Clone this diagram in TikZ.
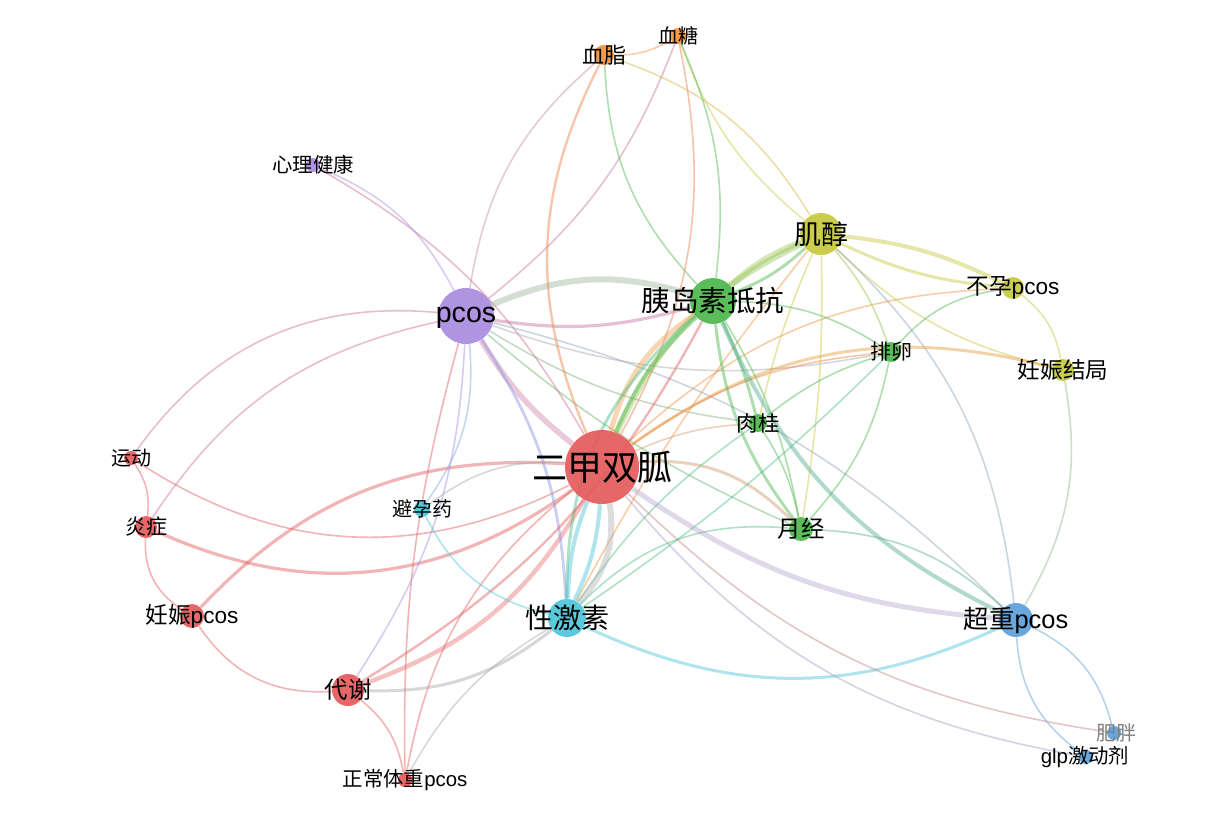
\documentclass[tikz,border=0pt]{standalone}
\usepackage{fontspec}
\setmainfont{Liberation Sans}
\newfontfamily\cjk{Noto Sans CJK SC}
\usetikzlibrary{backgrounds}
\definecolor{cred}{HTML}{E35B5B}
\definecolor{cpur}{HTML}{A98BE0}
\definecolor{cgrn}{HTML}{4DB84D}
\definecolor{cyel}{HTML}{C6C83D}
\definecolor{corg}{HTML}{F0923C}
\definecolor{ccya}{HTML}{4CC5D8}
\definecolor{cblu}{HTML}{5C9FDB}
\definecolor{cgry}{HTML}{A8A8A8}

\begin{document}
\begin{tikzpicture}[x=0.5pt,y=-0.5pt,
    dot/.style={circle,inner sep=0pt,draw=none,fill opacity=0.92},
    lbl/.style={inner sep=0pt,text=black},
    lnk/.style={line width=0.8pt,draw opacity=0.45},
    thk/.style={line width=2.4pt,draw opacity=0.38}
  ]
  \useasboundingbox (0,0) rectangle (1221,821);

  \node[dot,fill=cred,minimum size=37pt] (mf) at (602,467) {};
  \node[dot,fill=cpur,minimum size=28pt] (pc) at (466,316) {};
  \node[dot,fill=cgrn,minimum size=23pt] (ir) at (713,301) {};
  \node[dot,fill=cyel,minimum size=21pt] (ino) at (821,234) {};
  \node[dot,fill=corg,minimum size=10pt] (bl) at (604,55) {};
  \node[dot,fill=corg,minimum size=8pt] (bg) at (678,36) {};
  \node[dot,fill=cpur,minimum size=7pt] (mh) at (313,165) {};
  \node[dot,fill=cyel,minimum size=11pt] (inf) at (1013,288) {};
  \node[dot,fill=cgrn,minimum size=10pt] (ov) at (891,352) {};
  \node[dot,fill=cyel,minimum size=11pt] (po) at (1063,370) {};
  \node[dot,fill=cgrn,minimum size=9pt] (cin) at (758,423) {};
  \node[dot,fill=cred,minimum size=7pt] (ex) at (131,458) {};
  \node[dot,fill=cred,minimum size=11pt] (infl) at (146,527) {};
  \node[dot,fill=ccya,minimum size=8pt] (oc) at (422,509) {};
  \node[dot,fill=cgrn,minimum size=12pt] (men) at (801,529) {};
  \node[dot,fill=cred,minimum size=12pt] (pp) at (192,616) {};
  \node[dot,fill=ccya,minimum size=19pt] (sh) at (567,618) {};
  \node[dot,fill=cblu,minimum size=17pt] (ow) at (1016,620) {};
  \node[dot,fill=cred,minimum size=16pt] (met) at (348,690) {};
  \node[dot,fill=cred,minimum size=7pt] (nw) at (405,780) {};
  \node[dot,fill=cblu,minimum size=7pt] (ob) at (1114,733) {};
  \node[dot,fill=cblu,minimum size=7pt] (glp) at (1086,757) {};

  \begin{scope}[on background layer]
    \fill[white] (0,0) rectangle (1221,821);
    \draw[thk,cred!50!cpur,line width=2.8pt] (pc) to[bend right=10] (mf);
    \draw[thk,cred,line width=2.2pt] (met) to[bend right=20] (mf);
    \draw[lnk,cred,line width=1.6pt] (mf) to[bend right=25] (pp);
    \draw[lnk,cred,line width=1.6pt] (mf) to[bend left=30] (infl);
    \draw[lnk,cred] (mf) to[bend left=30] (ex);
    \draw[lnk,cred] (nw) to[bend left=20] (mf);
    \draw[lnk,cred] (nw) to[bend left=8] (pc);
    \draw[lnk,cred!60!cpur] (mh) to[bend left=15] (mf);
    \draw[lnk,cpur] (mh) to[bend left=20] (pc);
    \draw[lnk,cred!60!cpur] (pc) to[bend right=30] (ex);
    \draw[lnk,cred!60!cpur] (pc) to[bend right=22] (infl);
    \draw[lnk,cpur] (pc) to[bend left=15] (met);
    \draw[lnk,cpur!50!ccya] (pc) to[bend left=20] (oc);
    \draw[lnk,ccya] (oc) to[bend right=25] (sh);
    \draw[lnk,cgry] (oc) to[bend left=20] (mf);
    \draw[lnk,cpur!60!cblu,line width=1.4pt] (pc) to[bend left=15] (sh);
    \draw[thk,cgry!70!cgrn,line width=3pt] (pc) to[bend left=20] (ir);
    \draw[lnk,cred!50!cpur,line width=1.6pt] (pc) to[bend right=12] (ir);
    \draw[lnk,cgry] (pc) to[bend right=15] (ov);
    \draw[lnk,cgry!60!cgrn] (pc) to[bend right=12] (cin);
    \draw[lnk,cgrn!70!cgry] (pc) to[bend right=8] (men);
    \draw[lnk,cgry!70!cblu] (pc) to[bend left=15] (ow);
    \draw[lnk,cpur!60!corg] (pc) to[bend left=20] (bl);
    \draw[lnk,cred!50!cpur] (bg) to[bend left=15] (pc);
    \draw[lnk,corg!70!cred,line width=1.2pt] (bl) to[bend right=25] (mf);
    \draw[lnk,cgrn] (bl) to[bend right=20] (ir);
    \draw[lnk,corg] (bl) to[bend right=15] (bg);
    \draw[lnk,cyel!70!corg] (bl) to[bend left=20] (ino);
    \draw[lnk,cyel] (bg) to[bend right=15] (ino);
    \draw[lnk,cgrn] (bg) to[bend left=15] (ir);
    \draw[lnk,corg!60!cred] (bg) to[bend left=20] (mf);
    \draw[thk,cyel!60!cgrn,line width=3pt] (ino) to[bend right=10] (ir);
    \draw[lnk,cgrn,line width=1.5pt] (ino) to[bend left=10] (ir);
    \draw[thk,cyel!50!cgrn,line width=3pt] (ino) to[bend right=20] (mf);
    \draw[thk,corg,line width=2.5pt] (mf) to[bend left=20] (ir);
    \draw[lnk,cgrn,line width=2pt] (mf) to[bend left=12] (ir);
    \draw[lnk,cyel,line width=2pt] (ino) to[bend left=10] (inf);
    \draw[lnk,cyel,line width=1.5pt] (ino) to[bend right=10] (inf);
    \draw[lnk,cyel] (ino) to[bend right=15] (po);
    \draw[lnk,cyel!60!cgrn] (ino) to[bend left=10] (ov);
    \draw[lnk,cyel] (ino) to[bend right=5] (cin);
    \draw[lnk,cyel] (ino) to[bend left=5] (men);
    \draw[lnk,corg] (ino) to[bend right=5] (sh);
    \draw[lnk,cgry!60!cblu] (ino) to[bend left=20] (ow);
    \draw[lnk,cyel!50!cblu] (po) to[bend left=20] (ow);
    \draw[lnk,cyel] (inf) to[bend left=20] (po);
    \draw[lnk,corg!80!cyel,line width=1.5pt] (mf) to[bend left=25] (po);
    \draw[lnk,corg] (mf) to[bend left=20] (inf);
    \draw[lnk,corg!70!cred] (mf) to[bend left=15] (ov);
    \draw[lnk,corg!50!cgry] (mf) to[bend left=10] (cin);
    \draw[lnk,corg!50!cgry,line width=1.5pt] (mf) to[bend left=25] (men);
    \draw[lnk,cgrn] (ir) to[bend left=15] (ov);
    \draw[lnk,cgrn,line width=1.5pt] (ir) to[bend left=5] (cin);
    \draw[lnk,cgrn,line width=1.5pt] (ir) to[bend right=15] (men);
    \draw[lnk,cgrn] (ir) to[bend left=10] (men);
    \draw[lnk,cgrn!50!cblu,line width=2pt] (ir) to[bend right=20] (ow);
    \draw[lnk,cgrn!60!ccya,line width=1.5pt] (ir) to[bend right=25] (sh);
    \draw[lnk,cgrn] (inf) to[bend right=20] (ov);
    \draw[lnk,cgrn] (ov) to[bend left=15] (men);
    \draw[lnk,cgrn] (ov) to[bend right=10] (cin);
    \draw[lnk,cgrn!60!ccya] (ov) to[bend left=5] (sh);
    \draw[lnk,cgrn!60!ccya] (cin) to[bend right=10] (sh);
    \draw[lnk,cgrn] (cin) to[bend left=10] (men);
    \draw[lnk,cgrn!60!ccya] (sh) to[bend left=25] (men);
    \draw[lnk,cgrn!60!cblu] (men) to[bend left=20] (ow);
    \draw[lnk,ccya,line width=1.5pt] (sh) to[bend right=25] (ow);
    \draw[lnk,ccya,line width=2pt] (sh) to[bend left=10] (mf);
    \draw[lnk,ccya,line width=2pt] (sh) to[bend right=10] (mf);
    \draw[thk,cgry,line width=3pt] (sh) to[bend right=25] (mf);
    \draw[lnk,cgry,line width=1.5pt] (sh) to[bend left=20] (met);
    \draw[lnk,cgry] (nw) to[bend left=15] (sh);
    \draw[thk,cpur!50!cgry,line width=2.5pt] (mf) to[bend right=15] (ow);
    \draw[lnk,cpur!50!cgry] (mf) to[bend right=20] (glp);
    \draw[lnk,cred!50!cgry] (mf) to[bend right=18] (ob);
    \draw[lnk,cblu] (ow) to[bend right=25] (glp);
    \draw[lnk,cblu] (ow) to[bend left=25] (ob);
    \draw[lnk,cred] (met) to[bend left=20] (nw);
    \draw[lnk,cred] (pp) to[bend right=30] (met);
    \draw[lnk,cred] (infl) to[bend right=30] (pp);
    \draw[lnk,cred] (ex) to[bend left=20] (infl);
    \draw[lnk,cred,line width=1.2pt] (met) to[bend right=15] (ir);
  \end{scope}

  \node[lbl,font=\fontsize{17.5}{17.5}\selectfont] (mf-t) at (mf) {\cjk 二甲双胍};
  \node[lbl,font=\fontsize{14.3}{14.3}\selectfont] (pc-t) at (466,318) {pcos};
  \node[lbl,font=\fontsize{14.3}{14.3}\selectfont] (ir-t) at (ir) {\cjk 胰岛素抵抗};
  \node[lbl,font=\fontsize{13.5}{13.5}\selectfont] (ino-t) at (ino) {\cjk 肌醇};
  \node[lbl,font=\fontsize{11}{11}\selectfont] (bl-t) at (bl) {\cjk 血脂};
  \node[lbl,font=\fontsize{10}{10}\selectfont] (bg-t) at (bg) {\cjk 血糖};
  \node[lbl,font=\fontsize{10.2}{10.2}\selectfont] (mh-t) at (mh) {\cjk 心理健康};
  \node[lbl,font=\fontsize{11.3}{11.3}\selectfont] (inf-t) at (inf) {{\cjk 不孕}pcos};
  \node[lbl,font=\fontsize{10.5}{10.5}\selectfont] (ov-t) at (ov) {\cjk 排卵};
  \node[lbl,font=\fontsize{11.3}{11.3}\selectfont] (po-t) at (po) {\cjk 妊娠结局};
  \node[lbl,font=\fontsize{10.7}{10.7}\selectfont] (cin-t) at (cin) {\cjk 肉桂};
  \node[lbl,font=\fontsize{10}{10}\selectfont] (ex-t) at (ex) {\cjk 运动};
  \node[lbl,font=\fontsize{10.5}{10.5}\selectfont] (infl-t) at (infl) {\cjk 炎症};
  \node[lbl,font=\fontsize{10}{10}\selectfont] (oc-t) at (oc) {\cjk 避孕药};
  \node[lbl,font=\fontsize{11.7}{11.7}\selectfont] (men-t) at (men) {\cjk 月经};
  \node[lbl,font=\fontsize{11.3}{11.3}\selectfont] (pp-t) at (pp) {{\cjk 妊娠}pcos};
  \node[lbl,font=\fontsize{14}{14}\selectfont] (sh-t) at (sh) {\cjk 性激素};
  \node[lbl,font=\fontsize{12.7}{12.7}\selectfont] (ow-t) at (ow) {{\cjk 超重}pcos};
  \node[lbl,font=\fontsize{11.7}{11.7}\selectfont] (met-t) at (met) {\cjk 代谢};
  \node[lbl,font=\fontsize{10.2}{10.2}\selectfont] (nw-t) at (nw) {{\cjk 正常体重}pcos};
  \node[lbl,font=\fontsize{10}{10}\selectfont,text=gray] (ob-t) at (1116,733) {\cjk 肥胖};
  \node[lbl,font=\fontsize{10.2}{10.2}\selectfont] (glp-t) at (1085,757) {glp{\cjk 激动剂}};
\end{tikzpicture}
\end{document}
